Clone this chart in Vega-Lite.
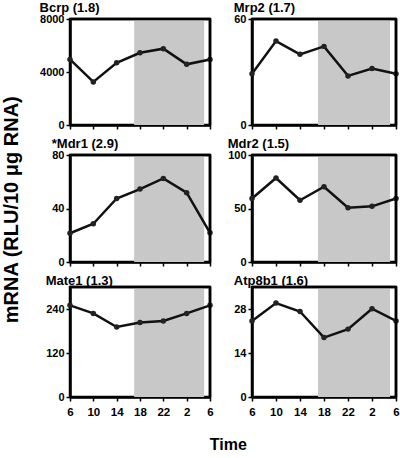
{
  "$schema": "https://vega.github.io/schema/vega-lite/v6.json",
  "padding": {"top": 0, "left": 2, "right": 1, "bottom": 2},
  "background": "white",
  "datasets": {
    "expr": [
      {"gene": "Bcrp", "hour": 6, "value": 4950},
      {"gene": "Bcrp", "hour": 10, "value": 3250},
      {"gene": "Bcrp", "hour": 14, "value": 4700},
      {"gene": "Bcrp", "hour": 18, "value": 5450},
      {"gene": "Bcrp", "hour": 22, "value": 5760},
      {"gene": "Bcrp", "hour": 26, "value": 4580},
      {"gene": "Bcrp", "hour": 30, "value": 4950},
      {"gene": "Mrp2", "hour": 6, "value": 29},
      {"gene": "Mrp2", "hour": 10, "value": 47.5},
      {"gene": "Mrp2", "hour": 14, "value": 40},
      {"gene": "Mrp2", "hour": 18, "value": 44.5},
      {"gene": "Mrp2", "hour": 22, "value": 27.8},
      {"gene": "Mrp2", "hour": 26, "value": 32},
      {"gene": "Mrp2", "hour": 30, "value": 29},
      {"gene": "Mdr1", "hour": 6, "value": 21.5},
      {"gene": "Mdr1", "hour": 10, "value": 28.6},
      {"gene": "Mdr1", "hour": 14, "value": 47.5},
      {"gene": "Mdr1", "hour": 18, "value": 54.5},
      {"gene": "Mdr1", "hour": 22, "value": 62.5},
      {"gene": "Mdr1", "hour": 26, "value": 51.8},
      {"gene": "Mdr1", "hour": 30, "value": 21.8},
      {"gene": "Mdr2", "hour": 6, "value": 59.3},
      {"gene": "Mdr2", "hour": 10, "value": 78.5},
      {"gene": "Mdr2", "hour": 14, "value": 57.7},
      {"gene": "Mdr2", "hour": 18, "value": 70.3},
      {"gene": "Mdr2", "hour": 22, "value": 50.8},
      {"gene": "Mdr2", "hour": 26, "value": 52},
      {"gene": "Mdr2", "hour": 30, "value": 59.3},
      {"gene": "Mate1", "hour": 6, "value": 250},
      {"gene": "Mate1", "hour": 10, "value": 228},
      {"gene": "Mate1", "hour": 14, "value": 191},
      {"gene": "Mate1", "hour": 18, "value": 203},
      {"gene": "Mate1", "hour": 22, "value": 207.5},
      {"gene": "Mate1", "hour": 26, "value": 228},
      {"gene": "Mate1", "hour": 30, "value": 250},
      {"gene": "Atp8b1", "hour": 6, "value": 24.2},
      {"gene": "Atp8b1", "hour": 10, "value": 29.9},
      {"gene": "Atp8b1", "hour": 14, "value": 27.2},
      {"gene": "Atp8b1", "hour": 18, "value": 18.9},
      {"gene": "Atp8b1", "hour": 22, "value": 21.6},
      {"gene": "Atp8b1", "hour": 26, "value": 28.1},
      {"gene": "Atp8b1", "hour": 30, "value": 24.2}
    ],
    "dark": [{"hour": 17, "end": 29}]
  },
  "config": {
    "font": "Liberation Sans",
    "view": {"stroke": "black", "strokeWidth": 2.5},
    "axis": {
      "domainColor": "black", "domainWidth": 2.5,
      "tickColor": "black", "tickWidth": 1.5, "tickSize": 4,
      "labelFont": "Liberation Sans", "labelFontWeight": "bold", "labelFontSize": 11, "labelColor": "black",
      "labelPadding": 2, "grid": false, "labelOverlap": false, "labelFlush": false,
      "titleFont": "Liberation Sans", "titleFontWeight": "bold", "titleColor": "black"
    },
    "rule": {"color": "black", "strokeWidth": 2.5},
    "title": {"font": "Liberation Sans", "fontWeight": "bold", "fontSize": 13, "anchor": "start", "offset": -2, "color": "black"}
  },
  "title": {"text": "Time", "orient": "bottom", "anchor": "middle", "fontSize": 16, "offset": 18, "dx": 26},
  "vconcat": [
    {
      "title": {"text": "mRNA (RLU/10 μg RNA)", "orient": "left", "anchor": "middle", "fontSize": 20, "offset": 16},
      "columns": 2,
      "spacing": {"row": 4, "column": 9},
      "concat": [
        {
          "width": 140, "height": 106, "title": "Bcrp (1.8)",
          "encoding": {"x": {"field": "hour", "type": "quantitative", "title": null, "scale": {"domain": [6, 30]}, "axis": {"labels": false, "labelOverlap": false, "values": [6, 10, 14, 18, 22, 26, 30]}}},
          "layer": [
            {"data": {"name": "dark"}, "mark": {"type": "rect", "color": "#c8c8c8"}, "encoding": {"x2": {"field": "end"}}},
            {"data": {"name": "expr"}, "transform": [{"filter": "datum.gene === 'Bcrp'"}],
             "mark": {"type": "line", "color": "#111", "strokeWidth": 2.5, "point": {"filled": true, "size": 30, "color": "#222"}},
             "encoding": {"y": {"field": "value", "type": "quantitative", "title": null, "scale": {"domain": [0, 8000]}, "axis": {"format": "d", "labelOverlap": false, "values": [0, 2000, 4000, 6000, 8000]}}}},
            {"data": {"name": "dark"}, "mark": "rule", "encoding": {"x": {"datum": 6}, "x2": {"datum": 30}, "y": {"datum": 8000, "title": null}}},
            {"data": {"name": "dark"}, "mark": "rule", "encoding": {"x": {"datum": 30}, "y": {"datum": 0, "title": null}, "y2": {"datum": 8000}}}
          ]
        },
        {
          "width": 144, "height": 106, "title": "Mrp2 (1.7)",
          "encoding": {"x": {"field": "hour", "type": "quantitative", "title": null, "scale": {"domain": [6, 30]}, "axis": {"labels": false, "labelOverlap": false, "values": [6, 10, 14, 18, 22, 26, 30]}}},
          "layer": [
            {"data": {"name": "dark"}, "mark": {"type": "rect", "color": "#c8c8c8"}, "encoding": {"x2": {"field": "end"}}},
            {"data": {"name": "expr"}, "transform": [{"filter": "datum.gene === 'Mrp2'"}],
             "mark": {"type": "line", "color": "#111", "strokeWidth": 2.5, "point": {"filled": true, "size": 30, "color": "#222"}},
             "encoding": {"y": {"field": "value", "type": "quantitative", "title": null, "scale": {"domain": [0, 60]}, "axis": {"labelOverlap": false, "values": [0, 20, 40, 60]}}}},
            {"data": {"name": "dark"}, "mark": "rule", "encoding": {"x": {"datum": 6}, "x2": {"datum": 30}, "y": {"datum": 60, "title": null}}},
            {"data": {"name": "dark"}, "mark": "rule", "encoding": {"x": {"datum": 30}, "y": {"datum": 0, "title": null}, "y2": {"datum": 60}}}
          ]
        },
        {
          "width": 140, "height": 107, "title": "*Mdr1 (2.9)",
          "encoding": {"x": {"field": "hour", "type": "quantitative", "title": null, "scale": {"domain": [6, 30]}, "axis": {"labels": false, "labelOverlap": false, "values": [6, 10, 14, 18, 22, 26, 30]}}},
          "layer": [
            {"data": {"name": "dark"}, "mark": {"type": "rect", "color": "#c8c8c8"}, "encoding": {"x2": {"field": "end"}}},
            {"data": {"name": "expr"}, "transform": [{"filter": "datum.gene === 'Mdr1'"}],
             "mark": {"type": "line", "color": "#111", "strokeWidth": 2.5, "point": {"filled": true, "size": 30, "color": "#222"}},
             "encoding": {"y": {"field": "value", "type": "quantitative", "title": null, "scale": {"domain": [0, 80]}, "axis": {"labelOverlap": false, "values": [0, 20, 40, 60, 80]}}}},
            {"data": {"name": "dark"}, "mark": "rule", "encoding": {"x": {"datum": 6}, "x2": {"datum": 30}, "y": {"datum": 80, "title": null}}},
            {"data": {"name": "dark"}, "mark": "rule", "encoding": {"x": {"datum": 30}, "y": {"datum": 0, "title": null}, "y2": {"datum": 80}}}
          ]
        },
        {
          "width": 144, "height": 107, "title": "Mdr2 (1.5)",
          "encoding": {"x": {"field": "hour", "type": "quantitative", "title": null, "scale": {"domain": [6, 30]}, "axis": {"labels": false, "labelOverlap": false, "values": [6, 10, 14, 18, 22, 26, 30]}}},
          "layer": [
            {"data": {"name": "dark"}, "mark": {"type": "rect", "color": "#c8c8c8"}, "encoding": {"x2": {"field": "end"}}},
            {"data": {"name": "expr"}, "transform": [{"filter": "datum.gene === 'Mdr2'"}],
             "mark": {"type": "line", "color": "#111", "strokeWidth": 2.5, "point": {"filled": true, "size": 30, "color": "#222"}},
             "encoding": {"y": {"field": "value", "type": "quantitative", "title": null, "scale": {"domain": [0, 100]}, "axis": {"labelOverlap": false, "values": [0, 50, 100]}}}},
            {"data": {"name": "dark"}, "mark": "rule", "encoding": {"x": {"datum": 6}, "x2": {"datum": 30}, "y": {"datum": 100, "title": null}}},
            {"data": {"name": "dark"}, "mark": "rule", "encoding": {"x": {"datum": 30}, "y": {"datum": 0, "title": null}, "y2": {"datum": 100}}}
          ]
        },
        {
          "width": 140, "height": 110, "title": "Mate1 (1.3)",
          "encoding": {"x": {"field": "hour", "type": "quantitative", "title": null, "scale": {"domain": [6, 30]},
                     "axis": {"values": [6, 10, 14, 18, 22, 26, 30], "labelOverlap": false, "labelExpr": "datum.value > 24 ? datum.value - 24 : datum.value", "labelPadding": 5, "labelFontSize": 11.5}}},
          "layer": [
            {"data": {"name": "dark"}, "mark": {"type": "rect", "color": "#c8c8c8"}, "encoding": {"x2": {"field": "end"}}},
            {"data": {"name": "expr"}, "transform": [{"filter": "datum.gene === 'Mate1'"}],
             "mark": {"type": "line", "color": "#111", "strokeWidth": 2.5, "point": {"filled": true, "size": 30, "color": "#222"}},
             "encoding": {"y": {"field": "value", "type": "quantitative", "title": null, "scale": {"domain": [0, 300]}, "axis": {"labelOverlap": false, "values": [0, 60, 120, 180, 240, 300]}}}},
            {"data": {"name": "dark"}, "mark": "rule", "encoding": {"x": {"datum": 6}, "x2": {"datum": 30}, "y": {"datum": 300, "title": null}}},
            {"data": {"name": "dark"}, "mark": "rule", "encoding": {"x": {"datum": 30}, "y": {"datum": 0, "title": null}, "y2": {"datum": 300}}}
          ]
        },
        {
          "width": 144, "height": 110, "title": "Atp8b1 (1.6)",
          "encoding": {"x": {"field": "hour", "type": "quantitative", "title": null, "scale": {"domain": [6, 30]},
                     "axis": {"values": [6, 10, 14, 18, 22, 26, 30], "labelOverlap": false, "labelExpr": "datum.value > 24 ? datum.value - 24 : datum.value", "labelPadding": 5, "labelFontSize": 11.5}}},
          "layer": [
            {"data": {"name": "dark"}, "mark": {"type": "rect", "color": "#c8c8c8"}, "encoding": {"x2": {"field": "end"}}},
            {"data": {"name": "expr"}, "transform": [{"filter": "datum.gene === 'Atp8b1'"}],
             "mark": {"type": "line", "color": "#111", "strokeWidth": 2.5, "point": {"filled": true, "size": 30, "color": "#222"}},
             "encoding": {"y": {"field": "value", "type": "quantitative", "title": null, "scale": {"domain": [0, 35]}, "axis": {"labelOverlap": false, "values": [0, 7, 14, 21, 28, 35]}}}},
            {"data": {"name": "dark"}, "mark": "rule", "encoding": {"x": {"datum": 6}, "x2": {"datum": 30}, "y": {"datum": 35, "title": null}}},
            {"data": {"name": "dark"}, "mark": "rule", "encoding": {"x": {"datum": 30}, "y": {"datum": 0, "title": null}, "y2": {"datum": 35}}}
          ]
        }
      ]
    }
  ]
}
